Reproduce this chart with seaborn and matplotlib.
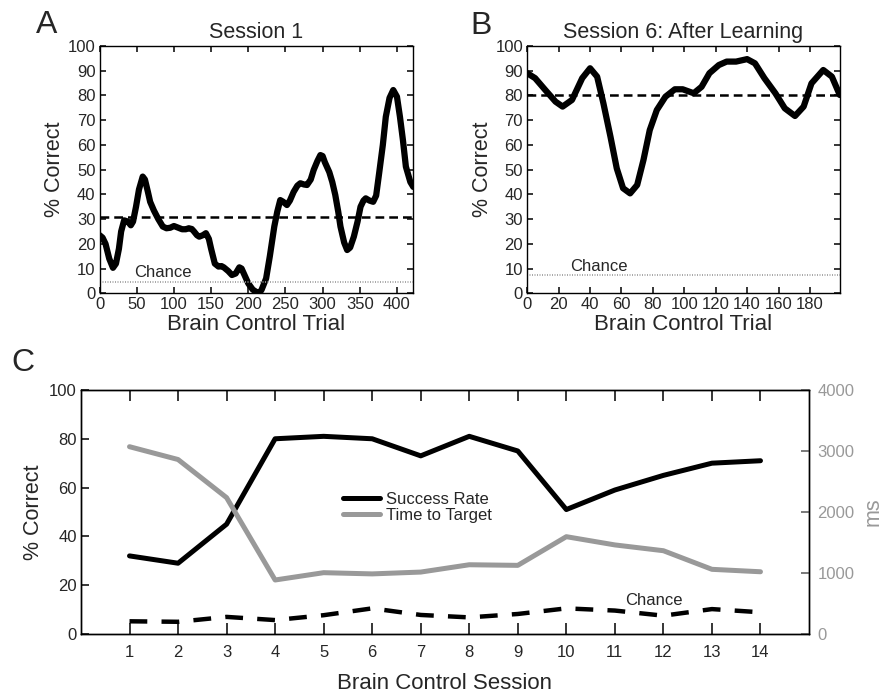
import matplotlib
matplotlib.use('Agg')
import matplotlib.pyplot as plt
import seaborn as sns

# Панель A: сессия 1
trial_a = [0, 4, 8, 13, 18, 22, 26, 29, 33, 38, 42, 45, 49, 53, 58, 61, 65, 68, 73,
           79, 85, 90, 95, 100, 106, 111, 116, 120, 124, 127, 131, 134, 139, 143,
           147, 150, 155, 160, 164, 167, 173, 178, 183, 188, 191, 194, 200, 206,
           212, 215, 218, 224, 229, 235, 239, 243, 247, 252, 256, 261, 266, 270,
           275, 279, 284, 288, 293, 297, 300, 303, 309, 313, 317, 321, 324, 329,
           333, 337, 342, 347, 351, 355, 358, 363, 368, 372, 376, 381, 385, 390,
           395, 400, 404, 408, 412, 418, 422]
correct_a = [23.5, 22.5, 20, 14, 10.3, 12, 18, 25, 29.5, 29, 27.5, 29, 35, 42,
             47.2, 46, 41, 37, 33.5, 30, 27, 26.3, 26.5, 27.2, 26.5, 25.9, 25.9,
             26.3, 26, 25, 23.5, 22.9, 23.5, 24.3, 22, 18, 12, 10.8, 11, 10.5, 9,
             7.4, 8, 10.5, 10, 8, 4, 1.5, 0.3, 0.1, 1.5, 6, 15, 27, 33, 37.7, 37,
             35.7, 37.5, 41, 43.5, 44.5, 44, 43.8, 46, 49.9, 53.5, 55.9, 55.5, 53,
             49, 45, 39.8, 33, 27, 20.5, 17.5, 18.5, 22.9, 29, 35, 37.5, 38.4, 37.5,
             37, 39.5, 48.5, 60, 71.4, 79, 82.2, 79.5, 71.4, 62, 51.2, 45, 43]
mean_a = 31
chance_a = 4.7
xticks_a = list(range(0, 401, 50))

# Панель B: сессия 6
trial_b = [0, 5, 11.5, 18, 22.5, 28.5, 35, 40, 44.5, 48.5, 53, 57, 61, 65.5, 70,
           74, 78, 82.5, 88, 94, 99, 106, 111, 116, 122, 127, 133, 140, 145, 151,
           158, 164, 170.5, 176, 181, 188.5, 194, 199]
correct_b = [89, 87, 82.2, 77.5, 75.5, 78.2, 87, 91, 87.6, 76.8, 63.3, 50.5, 42.5,
             40.4, 43.8, 53.9, 66, 74.1, 79.5, 82.5, 82.5, 80.9, 83.5, 89, 92.3,
             93.7, 93.7, 94.7, 93, 87, 80.9, 74.8, 71.7, 75.5, 84.9, 90.3, 87.6, 80.2]
mean_b = 80
chance_b = 7.3
xticks_b = list(range(0, 181, 20))
yticks_ab = list(range(0, 101, 10))

# Панель C: по сессиям
sessions = list(range(1, 15))
success_rate = [32, 29, 45, 80, 81, 80, 73, 81, 75, 51, 59, 65, 70, 71]
time_to_target = [3070, 2860, 2235, 885, 1005, 985, 1015, 1135, 1125, 1595, 1460,
                  1365, 1060, 1020]
chance_c = [5.2, 5, 7, 5.7, 7.7, 10.5, 7.8, 6.8, 8.2, 10.5, 9.6, 7.5, 10.2, 8.9]
yticks_c = list(range(0, 101, 20))
yticks_ms = list(range(0, 4001, 1000))

GREY = '#999999'

sns.set_style('ticks')
plt.rcParams['font.family'] = ['Liberation Sans', 'DejaVu Sans']
plt.rcParams['axes.linewidth'] = 1.0
plt.rcParams['axes.edgecolor'] = 'black'

fig = plt.figure(figsize=(8.86, 6.96), dpi=100)


def trial_panel(rect, x, y, mean_val, chance_val, title, xlim, xticks, chance_xy):
    ax = fig.add_axes(rect)
    sns.lineplot(x=x, y=y, ax=ax, color='black', linewidth=4.5, estimator=None)
    ax.axhline(mean_val, color='black', linestyle=(0, (3.5, 2)), linewidth=1.8)
    ax.axhline(chance_val, color=GREY, linestyle=(0, (0.6, 0.9)), linewidth=1.2)
    ax.text(chance_xy[0], chance_xy[1], 'Chance', fontsize=12, ha='center', va='center')
    ax.set_xlim(*xlim)
    ax.set_ylim(0, 100)
    ax.set_xticks(xticks)
    ax.set_yticks(yticks_ab)
    ax.tick_params(axis='both', direction='in', bottom=True, left=True, top=True,
                   right=True, length=4, width=1.1, color='black', labelsize=12, pad=3)
    ax.set_title(title, fontsize=15.5, pad=6)
    ax.set_xlabel('Brain Control Trial', fontsize=16, labelpad=1)
    ax.set_ylabel('% Correct', fontsize=15.5, labelpad=2)
    return ax


ax_a = trial_panel([0.1124, 0.5786, 0.3541, 0.3553], trial_a, correct_a, mean_a,
                   chance_a, 'Session 1', (0, 422), xticks_a, (85, 8.4))
ax_b = trial_panel([0.5951, 0.5786, 0.3527, 0.3553], trial_b, correct_b, mean_b,
                   chance_b, 'Session 6: After Learning', (0, 199), xticks_b,
                   (45.6, 10.8))

# Панель C
ax_c = fig.add_axes([0.0914, 0.0891, 0.8217, 0.3506])
ax_t = ax_c.twinx()
sns.lineplot(x=sessions, y=success_rate, ax=ax_c, color='black', linewidth=3.6,
             estimator=None, label='Success Rate')
sns.lineplot(x=sessions, y=chance_c, ax=ax_c, color='black', linewidth=3.2,
             estimator=None, linestyle=(0, (4, 3.2)))
sns.lineplot(x=sessions, y=time_to_target, ax=ax_t, color=GREY, linewidth=3.6,
             estimator=None, label='Time to Target')
ax_c.text(11.8, 13.6, 'Chance', fontsize=12, ha='center', va='center')

ax_c.set_xlim(0, 15)
ax_c.set_ylim(0, 100)
ax_c.set_xticks(sessions)
ax_c.set_yticks(yticks_c)
ax_c.tick_params(axis='x', direction='in', bottom=True, top=True, length=8,
                 width=1.1, color='black', labelsize=12, pad=8)
ax_c.tick_params(axis='y', direction='in', left=True, right=False, length=6,
                 width=1.1, color='black', labelsize=12, pad=3)
ax_c.set_xlabel('Brain Control Session', fontsize=16, labelpad=9)
ax_c.set_ylabel('% Correct', fontsize=15.5, labelpad=4)

ax_t.set_ylim(0, 4000)
ax_t.set_yticks(yticks_ms)
ax_t.tick_params(axis='y', direction='in', right=True, left=False, length=6,
                 width=1.1, color='#555555', labelsize=12, pad=6, labelcolor=GREY)
ax_t.set_ylabel('ms', fontsize=15.5, color=GREY, labelpad=6)

h1, l1 = ax_c.get_legend_handles_labels()
h2, l2 = ax_t.get_legend_handles_labels()
if ax_t.get_legend():
    ax_t.get_legend().remove()
ax_c.legend(h1 + h2, l1 + l2, loc='center left', bbox_to_anchor=(0.36, 0.52),
            frameon=False, fontsize=12, handlelength=2.2, handletextpad=0.4,
            labelspacing=0.05, borderpad=0, borderaxespad=0)

fig.text(0.053, 0.964, 'A', fontsize=23, ha='center', va='center')
fig.text(0.543, 0.963, 'B', fontsize=23, ha='center', va='center')
fig.text(0.026, 0.479, 'C', fontsize=23, ha='center', va='center')

fig.savefig('out.png', dpi=100)
